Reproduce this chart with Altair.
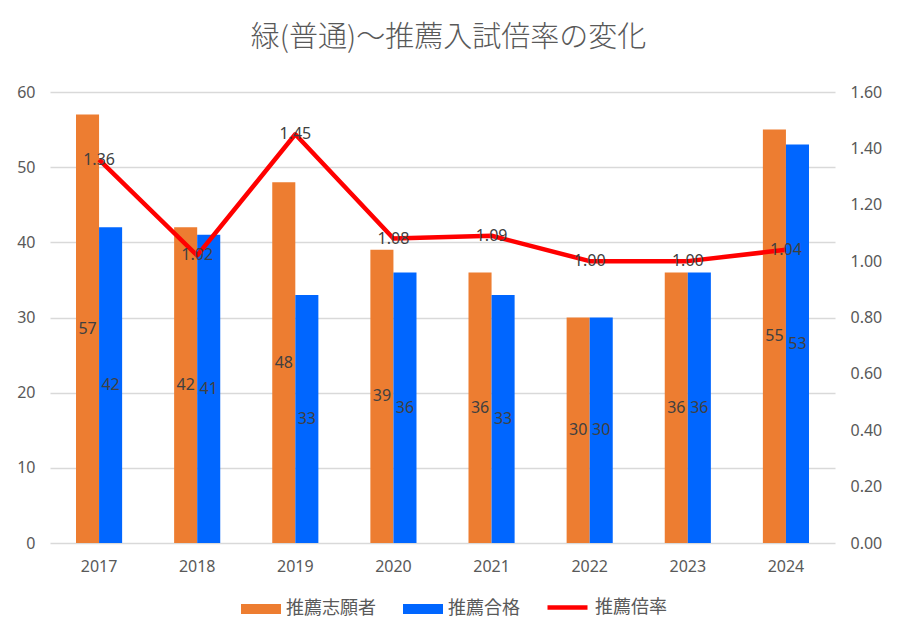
import altair as alt
import pandas as pd

years = ["2017", "2018", "2019", "2020", "2021", "2022", "2023", "2024"]
applicants = [57, 42, 48, 39, 36, 30, 36, 55]
passed = [42, 41, 33, 36, 33, 30, 36, 53]
ratio = [1.36, 1.02, 1.45, 1.08, 1.09, 1.00, 1.00, 1.04]
series_names = ["推薦志願者", "推薦合格"]
line_name = "推薦倍率"
left_ticks = [0, 10, 20, 30, 40, 50, 60]
right_ticks = [0, 0.2, 0.4, 0.6, 0.8, 1.0, 1.2, 1.4, 1.6]
title_text = "緑(普通)～推薦入試倍率の変化"

ORANGE = "#ED7D31"
BLUE = "#0066FF"
RED = "#FF0000"
GRAY = "#595959"
LABEL = "#404040"
FONT = "Noto Sans CJK JP"
NUM = "Noto Sans"

bars_df = pd.DataFrame({
    "year": years * 2,
    "series": [series_names[0]] * len(years) + [series_names[1]] * len(years),
    "value": applicants + passed,
})
bars_df["mid"] = bars_df["value"] / 2
line_df = pd.DataFrame({"year": years, "ratio": ratio, "series": [line_name] * len(years)})

x = alt.X("year:N", sort=years,
          scale=alt.Scale(paddingInner=0.53, paddingOuter=0.265),
          axis=alt.Axis(title=None, labelAngle=0, ticks=False, domain=False,
                        labelPadding=15, labelFont=NUM, labelFontSize=16,
                        labelColor=GRAY, grid=False))
xoff = alt.XOffset("series:N", sort=series_names,
                   scale=alt.Scale(domain=series_names, paddingInner=0, paddingOuter=0))
yl_scale = alt.Scale(domain=[0, 60])
yr_scale = alt.Scale(domain=[0, 1.6])
yl_axis = alt.Axis(title=None, orient="left", values=left_ticks, grid=True,
                   gridColor="#D9D9D9", gridWidth=1.6, domain=False, ticks=False,
                   labelPadding=15, labelFont=NUM, labelFontSize=16, labelColor=GRAY)
yr_axis = alt.Axis(title=None, orient="right", values=right_ticks, format=".2f",
                   grid=False, domain=False, ticks=False, labelPadding=15,
                   labelFont=NUM, labelFontSize=16, labelColor=GRAY)

bars = alt.Chart(bars_df).mark_bar().encode(
    x=x,
    xOffset=xoff,
    y=alt.Y("value:Q", scale=yl_scale, axis=yl_axis),
    fill=alt.Fill("series:N", sort=series_names,
                  scale=alt.Scale(domain=series_names, range=[ORANGE, BLUE]),
                  legend=alt.Legend(title=None, orient="none", legendX=191, legendY=497,
                                    direction="horizontal",
                                    symbolType="M-1,-0.25h2v0.5h-2z", symbolSize=1600,
                                    symbolStrokeWidth=0, symbolOpacity=1,
                                    labelFont=FONT, labelFontSize=18, labelColor=GRAY,
                                    columnPadding=27, labelOffset=5, padding=0)),
)

bar_text = alt.Chart(bars_df).mark_text(baseline="middle", align="center", font=NUM,
                                         fontSize=16, color=LABEL).encode(
    x=x,
    xOffset=xoff,
    y=alt.Y("mid:Q", scale=yl_scale, axis=yl_axis),
    text=alt.Text("value:Q"),
)

line = alt.Chart(line_df).mark_line(strokeWidth=4.5, strokeJoin="round").encode(
    x=x,
    y=alt.Y("ratio:Q", scale=yr_scale, axis=yr_axis),
    stroke=alt.Stroke("series:N",
                      scale=alt.Scale(domain=[line_name], range=[RED]),
                      legend=alt.Legend(title=None, orient="none", legendX=495, legendY=493,
                                        direction="horizontal", symbolType="stroke",
                                        symbolSize=1600, symbolStrokeWidth=4.5,
                                        labelFont=FONT, labelFontSize=18, labelColor=GRAY,
                                        labelOffset=5, padding=0)),
)

line_text = alt.Chart(line_df).mark_text(baseline="middle", align="center", font=NUM,
                                          fontSize=16, color=LABEL).encode(
    x=x,
    y=alt.Y("ratio:Q", scale=yr_scale, axis=yr_axis),
    text=alt.Text("ratio:Q", format=".2f"),
)

left = alt.layer(bars, bar_text)
right = alt.layer(line, line_text)

chart = alt.layer(left, right).resolve_scale(y="independent").properties(
    width=785,
    height=451,
    autosize=alt.AutoSizeParams(type="none"),
    padding={"left": 42, "top": 84, "right": 49, "bottom": 85},
    title=alt.Title(title_text, font=FONT, fontSize=29, fontWeight=300, color=GRAY,
                    anchor="middle", offset=31, dx=6),
).configure(background="white").configure_view(stroke=None)

chart.save("out.html", embed_options={"renderer": "svg", "actions": False})
